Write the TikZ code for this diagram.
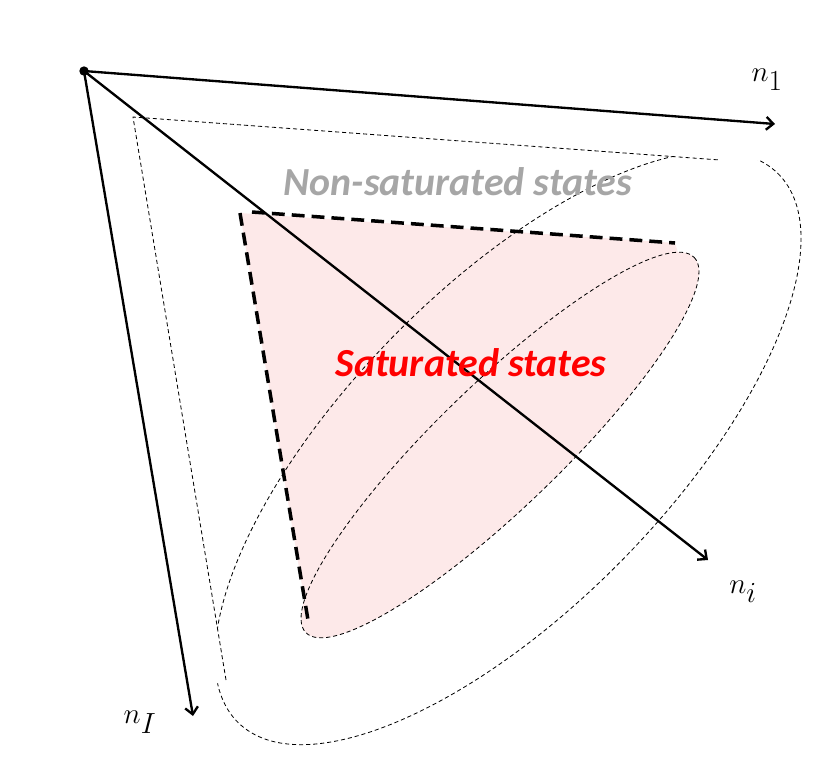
\documentclass[tikz,border=0pt]{standalone}
\usepackage{fontspec}
\newfontfamily\carlitofont{Carlito}
\usetikzlibrary{arrows.meta}
\definecolor{pinkfill}{RGB}{253,233,233}
\begin{document}
\begin{tikzpicture}[x=0.03cm,y=-0.03cm,
  axis/.style={line width=2pt,-{Straight Barb[length=6pt,width=11pt]}},
  thin dash/.style={dash pattern=on 3.5pt off 2.5pt,line width=0.7pt},
  thick dash/.style={dash pattern=on 11pt off 6pt,line width=3pt},
  lab/.style={font=\fontsize{33}{38}\selectfont}]
\useasboundingbox (0,0) rectangle (830,771);
% pink region
\fill[pinkfill] (240,213) -- (675,243) -- (688,285) -- (320,636) -- (308,622) -- cycle;
\fill[pinkfill] (500,445) ellipse[x radius=270, y radius=62, rotate=44];
\draw[thin dash] (500,445) ellipse[x radius=270, y radius=62, rotate=44];
% outer region
\coordinate (A) at (133,117);
\coordinate (B) at (720,160);
\coordinate (C) at (226,680);
\draw[thin dash] (C) -- (A) -- (B);
\begin{scope}
\clip (0,0) -- (133,117) -- (720,160) -- (830,160) -- (830,771) -- (0,771) -- (0,680) -- (226,680) -- cycle;
\clip (226,680) -- (133,117) -- (720,160) -- (830,0) -- (830,771) -- (0,771) -- cycle;
\draw[thin dash] (508,448) ellipse[x radius=385, y radius=160, rotate=45.5];
\end{scope}
% saturated boundary
\draw[thick dash] (252,212) -- (675,243);
\draw[thick dash] (240,213) -- (308,620);
% axes
\coordinate (O) at (84,71);
\fill (O) circle (4pt);
\node[lab] (n1) at (767,80) {$n_1$};
\node[lab] (ni) at (743,592) {$n_i$};
\node[lab] (nI) at (140,722) {$n_I$};
\coordinate (e1) at (775,124);
\coordinate (ei) at (708,560);
\coordinate (eI) at (193,716);
\draw[axis] (O) -- (e1);
\draw[axis] (O) -- (ei);
\draw[axis] (O) -- (eI);
\node[font=\carlitofont\bfseries\itshape\fontsize{34}{38}\selectfont,text=gray!70] (ns) at (458,182) {Non-saturated states};
\node[font=\carlitofont\bfseries\itshape\fontsize{34}{38}\selectfont,text=red] (ss) at (471,363) {Saturated states};
\end{tikzpicture}
\end{document}
